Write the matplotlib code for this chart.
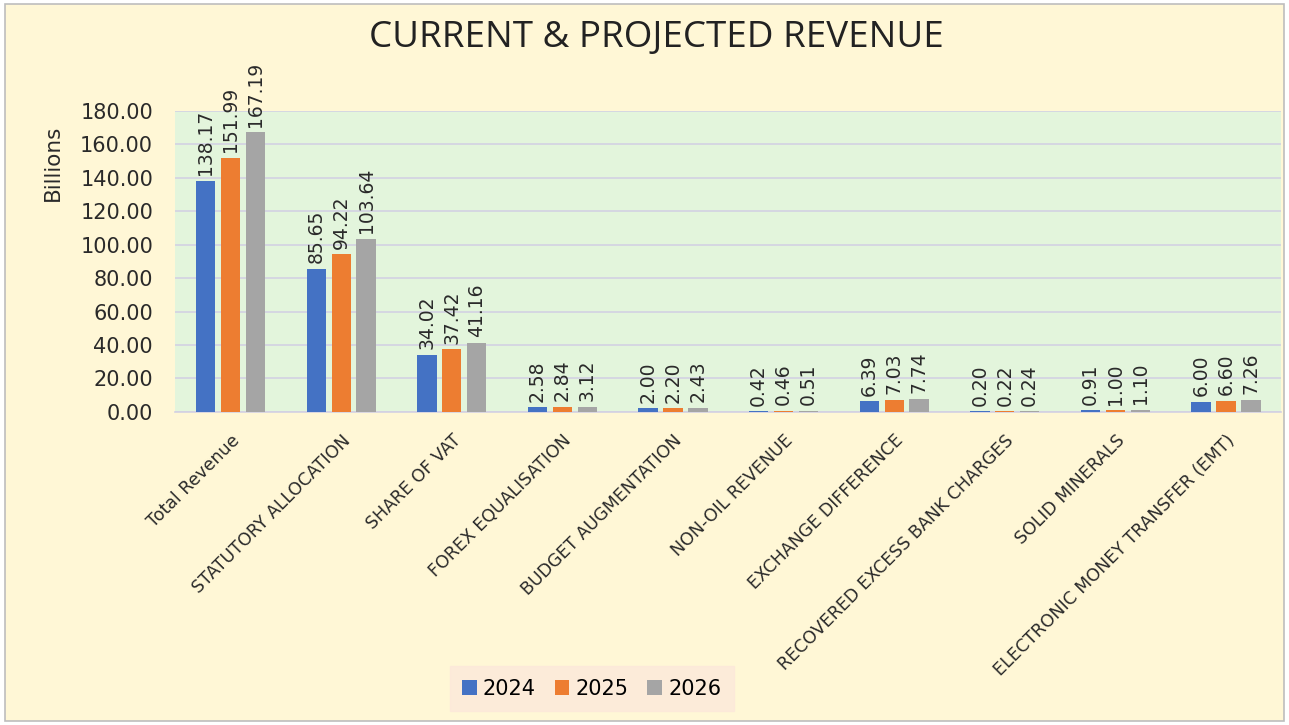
import matplotlib
matplotlib.use("Agg")
import matplotlib.pyplot as plt
import numpy as np
from matplotlib.patches import Rectangle

categories = ["Total Revenue", "STATUTORY ALLOCATION", "SHARE OF VAT", "FOREX EQUALISATION",
              "BUDGET AUGMENTATION", "NON-OIL REVENUE", "EXCHANGE DIFFERENCE",
              "RECOVERED EXCESS BANK CHARGES", "SOLID MINERALS", "ELECTRONIC MONEY TRANSFER (EMT)"]
years = ["2024", "2025", "2026"]
v2024 = [138.17, 85.65, 34.02, 2.58, 2.00, 0.42, 6.39, 0.20, 0.91, 6.00]
v2025 = [151.99, 94.22, 37.42, 2.84, 2.20, 0.46, 7.03, 0.22, 1.00, 6.60]
v2026 = [167.19, 103.64, 41.16, 3.12, 2.43, 0.51, 7.74, 0.24, 1.10, 7.26]
yticks = [0, 20, 40, 60, 80, 100, 120, 140, 160, 180]

plt.rcParams['font.family'] = ['DejaVu Sans']

fig = plt.figure(figsize=(12.89, 7.25), dpi=100)
fig.patch.set_facecolor('white')
fig.add_artist(Rectangle((0.004, 0.006), 0.992, 0.988, transform=fig.transFigure,
                         facecolor='#FFF7D6', edgecolor='#BDBDBD', linewidth=1.2, zorder=-10))

ax = fig.add_axes([0.136, 0.432, 0.858, 0.415])
ax.set_facecolor('#E3F5DC')

colors = ['#4472C4', '#ED7D31', '#A5A5A5']
series = [v2024, v2025, v2026]
x = np.arange(len(categories))
w = 0.175
step = 0.225
for i, (vals, c, yr) in enumerate(zip(series, colors, years)):
    xs = x + (i - 1) * step
    ax.bar(xs, vals, width=w, color=c, label=yr, zorder=3)
    for xx, v in zip(xs, vals):
        ax.annotate(f"{v:.2f}", (xx, v), xytext=(0, 4), textcoords='offset points',
                    rotation=90, ha='center', va='bottom', fontsize=13.5, color='#2a2a2a',
                    annotation_clip=False)

ax.set_ylim(0, 180)
ax.set_xlim(-0.5, len(categories) - 0.5)
ax.set_yticks(yticks)
ax.set_yticklabels([f"{t:.2f}" for t in yticks], fontsize=15, color='#2a2a2a')
ax.yaxis.grid(True, color='#D3D1E3', linewidth=1.2, zorder=0)
ax.set_axisbelow(True)
for s in ['top', 'right', 'left']:
    ax.spines[s].set_visible(False)
ax.spines['bottom'].set_color('#D3D1E3')
ax.spines['bottom'].set_linewidth(1.2)
ax.tick_params(axis='both', length=0)
ax.tick_params(axis='y', pad=16)

ax.set_xticks(x)
ax.set_xticklabels(categories, rotation=45, ha='right', rotation_mode='anchor',
                   fontsize=12.5, color='#2a2a2a')
ax.tick_params(axis='x', pad=14)

fig.text(0.041, 0.776, "Billions", rotation=90, ha='center', va='center', fontsize=15.5,
         color='#2a2a2a')
fig.text(0.509, 0.948, "CURRENT & PROJECTED REVENUE", ha='center', va='center',
         fontsize=26.5, color='#222222', family='Open Sans')

leg = fig.legend(loc='center', bbox_to_anchor=(0.459, 0.050), ncol=3, frameon=True,
                 fontsize=15, handlelength=0.7, handleheight=0.7, handletextpad=0.3,
                 columnspacing=0.9, borderpad=0.6)
leg.get_frame().set_facecolor('#FCE8DA')
leg.get_frame().set_edgecolor('#FCE8DA')
leg.get_frame().set_boxstyle('square', pad=0)

fig.savefig('out.png', dpi=100, facecolor=fig.get_facecolor())
